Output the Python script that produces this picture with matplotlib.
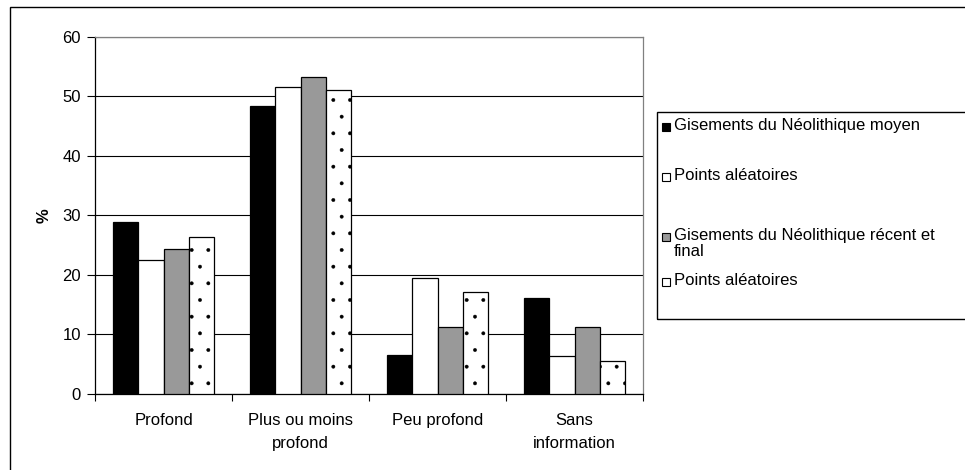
import numpy as np
import matplotlib.pyplot as plt
from matplotlib.patches import Rectangle

plt.rcParams['font.family'] = ['Liberation Sans', 'DejaVu Sans']
plt.rcParams['hatch.linewidth'] = 0.3

# Data
categories = ['Profond', 'Plus ou moins\nprofond', 'Peu profond', 'Sans\ninformation']
neo_moyen = [28.9, 48.4, 6.5, 16.1]
aleatoire_1 = [22.5, 51.6, 19.4, 6.3]
neo_recent = [24.4, 53.3, 11.2, 11.2]
aleatoire_2 = [26.3, 51.1, 17.0, 5.5]
series_labels = ['Gisements du Néolithique moyen', 'Points aléatoires',
                 'Gisements du Néolithique récent et\nfinal', 'Points aléatoires']
y_ticks = [0, 10, 20, 30, 40, 50, 60]

W, H = 965, 470
FS = 12
fig = plt.figure(figsize=(W / 100, H / 100), dpi=100)
ax = fig.add_axes([95 / W, 1 - 393.5 / H, (643 - 95) / W, (393.5 - 37) / H])

x = np.arange(len(categories))
w = 0.186
styles = [
    dict(color='black', edgecolor='black'),
    dict(color='white', edgecolor='black'),
    dict(color='#999999', edgecolor='black'),
    dict(color='white', edgecolor='black', hatch='.'),
]
all_series = [neo_moyen, aleatoire_1, neo_recent, aleatoire_2]
for i, (vals, st) in enumerate(zip(all_series, styles)):
    ax.bar(x + (i - 1.5) * w, vals, w, linewidth=0.9, zorder=3, **st)

ax.set_xlim(-0.5, 3.5)
ax.set_ylim(0, 60)
ax.set_yticks(y_ticks)
ax.yaxis.grid(True, color='black', linewidth=0.8, zorder=0)
ax.set_axisbelow(True)
ax.tick_params(axis='y', direction='out', length=6, width=0.8, labelsize=FS, pad=4)

ax.set_xticks(x)
ax.set_xticklabels(categories, fontsize=FS, linespacing=1.65)
ax.tick_params(axis='x', which='major', length=0, pad=14)
ax.set_xticks(np.arange(-0.5, 4, 1), minor=True)
ax.tick_params(axis='x', which='minor', direction='out', length=5, width=0.8)

for s in ['top', 'right']:
    ax.spines[s].set_color('#808080')
    ax.spines[s].set_linewidth(0.9)
for s in ['left', 'bottom']:
    ax.spines[s].set_color('black')
    ax.spines[s].set_linewidth(0.9)

ax.set_ylabel('%', fontsize=FS, fontweight='bold', labelpad=8)

# outer chart frame (extends past the picture edges)
fig.patches.append(Rectangle((10 / W, -0.2), 1.2, 1.2 - 7 / H, transform=fig.transFigure,
                             fill=False, edgecolor='black', linewidth=1.0))

# legend box, clipped at the right edge like the original
fig.patches.append(Rectangle((657 / W, 1 - 319 / H), 0.5, (319 - 112) / H,
                             transform=fig.transFigure, fill=False,
                             edgecolor='black', linewidth=1.0))
legend_rows = [127, 177, 237, 282]
for (lab, st, yp) in zip(series_labels, styles, legend_rows):
    fig.patches.append(Rectangle((662 / W, 1 - (yp + 4) / H), 8 / W, 8 / H,
                                 transform=fig.transFigure, linewidth=0.8,
                                 facecolor=st['color'], edgecolor='black'))
    fig.text(674 / W, 1 - (yp - 9) / H, lab, fontsize=FS, va='top',
             ha='left', linespacing=1.05)

fig.savefig('out.png', dpi=100)
